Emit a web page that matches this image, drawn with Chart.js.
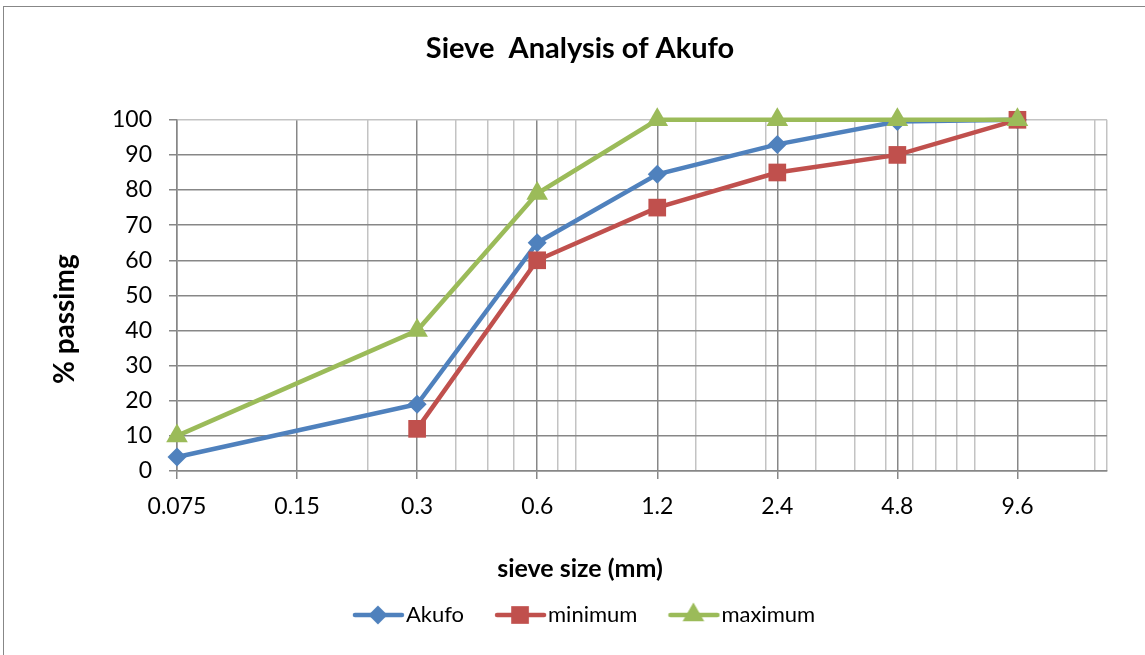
<!DOCTYPE html>
<html>
<head>
<meta charset="utf-8">
<script src="https://cdn.jsdelivr.net/npm/chart.js@4"></script>
<style>
  html, body { margin: 0; padding: 0; background: #fff; }
  #wrap { width: 1145px; height: 655px; }
</style>
</head>
<body>
<div id="wrap"><canvas id="sieveChart" width="1145" height="655"></canvas></div>
<script>
// sieve sizes (mm) and their tick labels
const sieveLabels = ['0.075', '0.15', '0.3', '0.6', '1.2', '2.4', '4.8', '9.6'];
const sieveSizes = [0.075, 0.15, 0.3, 0.6, 1.2, 2.4, 4.8, 9.6];

// % passing per sieve (null = no reading)
const akufo = [4, null, 19, 65, 84.5, 93, 99.5, 100];
const minimum = [null, null, 12, 60, 75, 85, 90, 100];
const maximum = [10, null, 40, 79, 100, 100, 100, 100];

// light log-grid lines between the sieve sizes
const minorGrid = [0.225, 0.375, 0.45, 0.525, 0.675, 0.75, 1.5, 2.25, 3, 3.75, 4.5, 5.25, 6, 6.75, 7.5, 15];
const xMin = 0.075;
const xMax = 16.1;

const yTicks = [0, 10, 20, 30, 40, 50, 60, 70, 80, 90, 100];

const FONT = 'Lato, Carlito, Calibri, sans-serif';
const GRID_DARK = '#878787';
const GRID_LIGHT = '#c3c3c3';

function toPoints(values) {
  const pts = [];
  values.forEach((v, i) => {
    if (v !== null) pts.push({ x: sieveSizes[i], y: v });
  });
  return pts;
}

// legend swatch: line with the marker in the middle, drawn right of centre
// so the text sits close to it and the items are spaced apart
function legendSwatch(color, style, radius) {
  const c = document.createElement('canvas');
  c.width = 80;
  c.height = 28;
  const g = c.getContext('2d');
  g.strokeStyle = color;
  g.lineWidth = 4.5;
  g.lineCap = 'round';
  g.beginPath();
  g.moveTo(25, 14);
  g.lineTo(72, 14);
  g.stroke();
  g.fillStyle = color;
  g.strokeStyle = color;
  Chart.helpers.drawPoint(g, { pointStyle: style, radius: radius, borderWidth: 0, rotation: 0 }, 48, 14);
  return c;
}

const series = [
  { label: 'Akufo', data: akufo, color: '#4f81bd', style: 'rectRot', r: 9.5, order: 2 },
  { label: 'minimum', data: minimum, color: '#c0504d', style: 'rect', r: 12.5, order: 1 },
  { label: 'maximum', data: maximum, color: '#9bbb59', style: 'triangle', r: 12.5, order: 0 }
];

const frame = {
  id: 'frame',
  beforeDraw(chart) {
    const ctx = chart.ctx;
    ctx.save();
    ctx.fillStyle = '#fff';
    ctx.fillRect(0, 0, chart.width, chart.height);
    ctx.strokeStyle = '#878787';
    ctx.lineWidth = 1;
    ctx.strokeRect(3.5, 6.5, chart.width + 10, chart.height + 10);
    ctx.restore();
  }
};

const ctx = document.getElementById('sieveChart').getContext('2d');
new Chart(ctx, {
  type: 'line',
  data: {
    datasets: series.map(s => ({
      label: s.label,
      data: toPoints(s.data),
      borderColor: s.color,
      backgroundColor: s.color,
      borderWidth: 4.5,
      pointStyle: s.style,
      pointRadius: s.r,
      pointHoverRadius: s.r,
      pointBorderWidth: 0,
      tension: 0,
      order: s.order,
      clip: false,
      swatch: legendSwatch(s.color, s.style, s.r)
    }))
  },
  options: {
    responsive: false,
    animation: false,
    layout: { padding: { left: 53, right: 38, top: 0, bottom: 19 } },
    scales: {
      x: {
        type: 'logarithmic',
        min: xMin,
        max: xMax,
        afterBuildTicks(scale) {
          const t = sieveSizes.map(v => ({ value: v, major: true }));
          minorGrid.forEach(v => t.push({ value: v, major: false }));
          t.push({ value: xMax, major: false });
          t.sort((a, b) => a.value - b.value);
          scale.ticks = t;
        },
        afterFit(scale) { scale.height = 70; },
        ticks: {
          autoSkip: false,
          maxRotation: 0,
          padding: 14,
          color: '#000',
          font: { family: FONT, size: 23 },
          callback(value) {
            const i = sieveSizes.findIndex(v => Math.abs(v - value) < 1e-9);
            return i >= 0 ? sieveLabels[i] : '';
          }
        },
        grid: {
          color: c => (c.tick && c.tick.major ? GRID_DARK : GRID_LIGHT),
          tickColor: c => (c.tick && c.tick.major ? GRID_DARK : 'rgba(0,0,0,0)'),
          lineWidth: 1.5,
          tickLength: 8
        },
        border: { color: GRID_DARK, width: 1.5 }
      },
      y: {
        min: 0,
        max: 100,
        afterBuildTicks(scale) {
          scale.ticks = yTicks.map(v => ({ value: v }));
        },
        afterFit(scale) { scale.width = 124; },
        ticks: {
          padding: 17,
          color: '#000',
          font: { family: FONT, size: 23 }
        },
        grid: {
          color: c => (c.tick && c.tick.value === 100 ? GRID_LIGHT : GRID_DARK),
          tickColor: GRID_DARK,
          lineWidth: 1.5,
          tickLength: 8
        },
        border: { color: GRID_DARK, width: 1.5 },
        title: {
          display: true,
          text: '% passimg       ',
          color: '#000',
          padding: { top: -5, bottom: 0 },
          font: { family: FONT, size: 28, weight: 'bold' }
        }
      }
    },
    plugins: {
      title: {
        display: true,
        text: 'Sieve  Analysis of Akufo',
        color: '#000',
        padding: { top: 31, bottom: 54 },
        font: { family: FONT, size: 29, weight: 'bold' }
      },
      subtitle: {
        display: true,
        position: 'bottom',
        text: 'sieve size (mm)',
        color: '#000',
        padding: { top: 15, bottom: 0 },
        font: { family: FONT, size: 25, weight: 'bold', lineHeight: 1 }
      },
      legend: {
        position: 'bottom',
        weight: 1600,
        labels: {
          usePointStyle: true,
          pointStyleWidth: 50,
          padding: 23,
          color: '#000',
          font: { family: FONT, size: 22 },
          generateLabels(chart) {
            return chart.data.datasets.map((d, i) => ({
              text: d.label,
              pointStyle: d.swatch,
              fillStyle: d.borderColor,
              strokeStyle: d.borderColor,
              lineWidth: 0,
              hidden: false,
              datasetIndex: i,
              fontColor: '#000'
            }));
          }
        }
      },
      tooltip: { enabled: false }
    }
  },
  plugins: [frame]
});
</script>
</body>
</html>
